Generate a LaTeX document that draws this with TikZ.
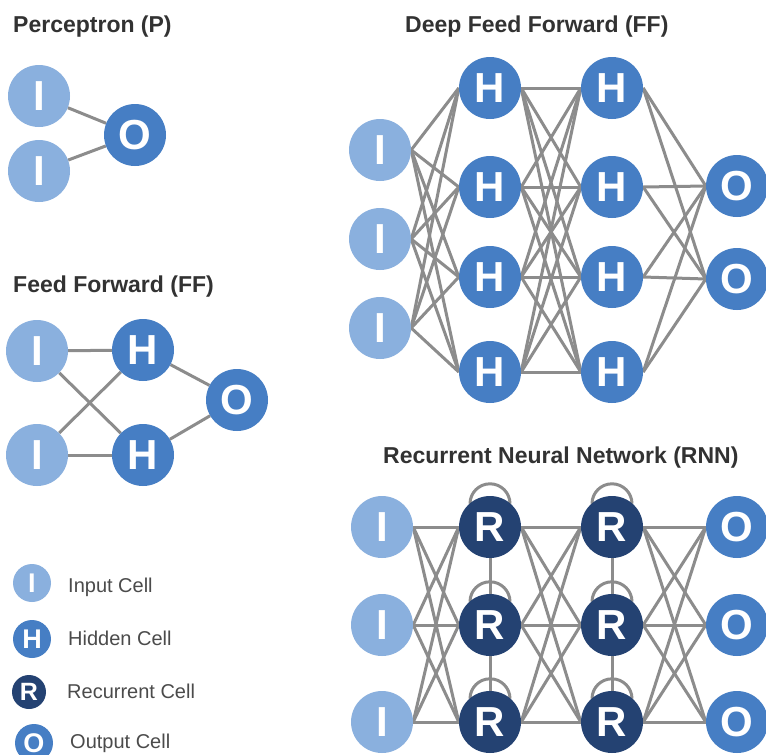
\documentclass[tikz,border=0pt]{standalone}
\usepackage{fontspec}
\setmainfont{Liberation Sans}
\usetikzlibrary{backgrounds}
\definecolor{inc}{RGB}{138,176,222}
\definecolor{hic}{RGB}{70,126,196}
\definecolor{rec}{RGB}{36,66,114}
\definecolor{edgec}{RGB}{140,140,140}
\definecolor{titc}{RGB}{50,50,50}
\definecolor{legc}{RGB}{75,75,75}
\tikzset{
 cell/.style={circle, minimum size=62pt, inner sep=0pt, text=white, font=\fontsize{42}{42}\selectfont\bfseries},
 incell/.style={cell, fill=inc},
 hidcell/.style={cell, fill=hic},
 outcell/.style={cell, fill=hic},
 reccell/.style={cell, fill=rec},
 conn/.style={draw=edgec, line width=3pt},
 ttl/.style={anchor=base west, inner sep=0pt, text=titc, font=\fontsize{23}{23}\selectfont\bfseries},
 leg/.style={anchor=base west, inner sep=0pt, text=legc, font=\fontsize{20}{20}\selectfont},
 icon/.style={minimum size=38pt, font=\fontsize{27}{27}\selectfont\bfseries}
}
\begin{document}
\begin{tikzpicture}[x=1pt,y=-1pt]
\useasboundingbox (0,0) rectangle (766,755);

% ---------- Perceptron ----------
\node[ttl] (tP) at (13,32) {Perceptron (P)};
\node[incell] (p1) at (39,96) {I};
\node[incell] (p2) at (39,171) {I};
\node[outcell] (po) at (135,135) {O};

% ---------- Feed Forward ----------
\node[ttl] (tF) at (13,292) {Feed Forward (FF)};
\node[incell] (f1) at (37,351) {I};
\node[incell] (f2) at (37,455) {I};
\node[hidcell] (fh1) at (143,350) {H};
\node[hidcell] (fh2) at (143,455) {H};
\node[outcell] (fo) at (237,400) {O};

% ---------- Deep Feed Forward ----------
\node[ttl] (tD) at (405,32) {Deep Feed Forward (FF)};
\node[incell] (di1) at (380,150) {I};
\node[incell] (di2) at (380,239) {I};
\node[incell] (di3) at (380,328) {I};
\node[hidcell] (da1) at (490,88) {H};
\node[hidcell] (da2) at (490,187) {H};
\node[hidcell] (da3) at (490,277) {H};
\node[hidcell] (da4) at (490,372) {H};
\node[hidcell] (db1) at (612,88) {H};
\node[hidcell] (db2) at (612,187) {H};
\node[hidcell] (db3) at (612,277) {H};
\node[hidcell] (db4) at (612,372) {H};
\node[outcell] (do1) at (737,186) {O};
\node[outcell] (do2) at (737,279) {O};

% ---------- RNN ----------
\node[ttl] (tR) at (383,463) {Recurrent Neural Network (RNN)};
\node[incell] (ri1) at (382,527) {I};
\node[incell] (ri2) at (382,625) {I};
\node[incell] (ri3) at (382,722) {I};
\node[reccell] (ra1) at (490,527) {R};
\node[reccell] (ra2) at (490,625) {R};
\node[reccell] (ra3) at (490,722) {R};
\node[reccell] (rb1) at (612,527) {R};
\node[reccell] (rb2) at (612,625) {R};
\node[reccell] (rb3) at (612,722) {R};
\node[outcell] (ro1) at (737,527) {O};
\node[outcell] (ro2) at (737,625) {O};
\node[outcell] (ro3) at (737,722) {O};

% ---------- Legend ----------
\node[incell,icon] (li) at (32,583) {I};
\node[hidcell,icon] (lh) at (32,639) {H};
\node[reccell,icon,minimum size=34pt,font=\fontsize{25}{25}\selectfont\bfseries] (lr) at (29,692) {R};
\node[outcell,icon] (lo) at (34,743) {O};
\node[leg] (lti) at (68,592) {Input Cell};
\node[leg] (lth) at (68,645) {Hidden Cell};
\node[leg] (ltr) at (67,698) {Recurrent Cell};
\node[leg] (lto) at (70,748) {Output Cell};

% ---------- connectors ----------
\begin{scope}[on background layer]
\fill[white] (0,0) rectangle (766,755);
\draw[conn] (p1) -- (po);
\draw[conn] (p2) -- (po);

\foreach \a in {f1,f2} \foreach \b in {fh1,fh2} \draw[conn] (\a) -- (\b);
\draw[conn] (fh1) -- (fo);
\draw[conn] (fh2) -- (fo);

\foreach \a in {1,2,3} \foreach \b in {1,2,3,4} \draw[conn] (di\a.east) -- (da\b.west);
\foreach \a in {1,2,3,4} \foreach \b in {1,2,3,4} \draw[conn] (da\a.east) -- (db\b.west);
\foreach \a in {1,2,3,4} \foreach \b in {1,2} \draw[conn] (db\a.east) -- (do\b.west);

\foreach \a in {1,2,3} \foreach \b in {1,2,3} {
  \draw[conn] (ri\a.east) -- (ra\b.west);
  \draw[conn] (ra\a.east) -- (rb\b.west);
  \draw[conn] (rb\a.east) -- (ro\b.west);
}
\draw[conn] (ra1.south) -- (ra2.north);
\draw[conn] (ra2.south) -- (ra3.north);
\draw[conn] (rb1.south) -- (rb2.north);
\draw[conn] (rb2.south) -- (rb3.north);
\foreach \n in {ra1,ra2,ra3,rb1,rb2,rb3}
  \draw[conn] ([shift={(-20pt,-8pt)}]\n.north) arc[start angle=180, end angle=0, radius=20pt];
\end{scope}
\end{tikzpicture}
\end{document}
